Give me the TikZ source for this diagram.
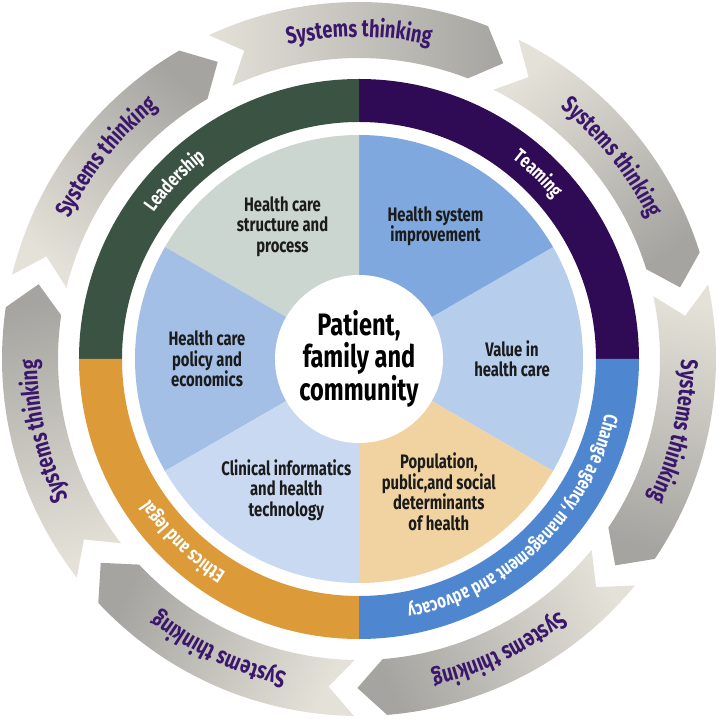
\documentclass[tikz,border=0pt]{standalone}
\usepackage{fontspec}
\newfontfamily\condfont{Fira Sans}[FakeStretch=0.76]
\usetikzlibrary{decorations.text}

\definecolor{arrowlight}{HTML}{E4E1D8}
\definecolor{arrowdark}{HTML}{A5A4A0}
\definecolor{stpurple}{HTML}{3B176C}
\definecolor{leadgreen}{HTML}{3A5342}
\definecolor{teampurple}{HTML}{2E0B54}
\definecolor{ethicsorange}{HTML}{DC9A39}
\definecolor{changeblue}{HTML}{4F86D0}
\definecolor{structgray}{HTML}{CAD6CF}
\definecolor{improveblue}{HTML}{7FA8DE}
\definecolor{valueblue}{HTML}{B6CDEC}
\definecolor{poptan}{HTML}{F1D3A1}
\definecolor{clinicblue}{HTML}{C9D9F1}
\definecolor{policyblue}{HTML}{A3BFE6}
\definecolor{wedgeink}{HTML}{1B1B1B}

\newcommand\arrowfont{\condfont\bfseries\fontsize{24}{24}\selectfont}
\newcommand\ringfont{\condfont\bfseries\fontsize{19.5}{19.5}\selectfont}

\begin{document}
\begin{tikzpicture}[%
  wedgetext/.style={%
    align=center,
    text=wedgeink,
    font=\condfont\bfseries\fontsize{19.5}{20.5}\selectfont,
  },
  hubstyle/.style={%
    circle,
    fill=white,
    minimum size=168pt,
    inner sep=0pt,
    align=center,
    font=\condfont\bfseries\fontsize{31}{28.5}\selectfont,
  },
  ringlabel/.style={%
    decorate,
    decoration={text along path, text align=center, text color=white,
      text={|\ringfont|#1}},
  },
  arrowlabel/.style={%
    decorate,
    decoration={text along path, text align=center, text color=stpurple,
      text={|\arrowfont|Systems thinking}},
  },
]
  \useasboundingbox (-359pt,-360pt) rectangle (360pt,359pt);

  % outer ring of arrows
  \foreach \k in {0,...,6} {
    \pgfmathsetmacro\c{90-\k*360/7}
    \shade[top color=arrowlight, bottom color=arrowdark, shading angle=\c]
      (\c+24.9:357pt) arc[start angle=\c+24.9, end angle=\c-21.2, radius=357pt]
      -- (\c-26:329pt) -- (\c-21.2:301pt)
      arc[start angle=\c-21.2, end angle=\c+24.9, radius=301pt]
      -- (\c+20.4:329pt) -- cycle;
    \path[arrowlabel] (\c+28:322pt) arc[start angle=\c+28, end angle=\c-28, radius=322pt];
  }

  % middle ring
  \foreach \a/\col in {0/teampurple, 90/leadgreen, 180/ethicsorange, 270/changeblue} {
    \fill[\col] (\a:280pt) arc[start angle=\a, end angle=\a+90, radius=280pt]
      -- (\a+90:237pt) arc[start angle=\a+90, end angle=\a, radius=237pt] -- cycle;
  }
  \path[ringlabel=Leadership] (180:252pt) arc[start angle=180, end angle=92, radius=252pt];
  \path[ringlabel=Teaming] (90:252pt) arc[start angle=90, end angle=2, radius=252pt];
  \path[ringlabel=Ethics and legal] (270:252pt) arc[start angle=270, end angle=182, radius=252pt];
  \path[ringlabel={Change agency, management and advocacy}] (-0.7:252pt) arc[start angle=-0.7, end angle=-90.7, radius=252pt];

  % inner wedges
  \foreach \a/\col in {-30/valueblue, 30/improveblue, 90/structgray, 150/policyblue, 210/clinicblue, 270/poptan} {
    \fill[\col] (0,0) -- (\a:224pt) arc[start angle=\a, end angle=\a+60, radius=224pt] -- cycle;
  }

  \node[wedgetext] (improve) at (60:153pt) {Health system\\improvement};
  \node[wedgetext] (value) at (0:153pt) {Value in\\health care};
  \node[wedgetext] (population) at (-59:155pt) {Population,\\public,and social\\determinants\\of health};
  \node[wedgetext] (clinical) at (-119:150pt) {Clinical informatics\\and health\\technology};
  \node[wedgetext] (policy) at (180:152pt) {Health care\\policy and\\economics};
  \node[wedgetext] (structure) at (120:153pt) {Health care\\structure and\\process};

  \node[hubstyle] (hub) at (0,0) {Patient,\\family and\\community};
\end{tikzpicture}
\end{document}
